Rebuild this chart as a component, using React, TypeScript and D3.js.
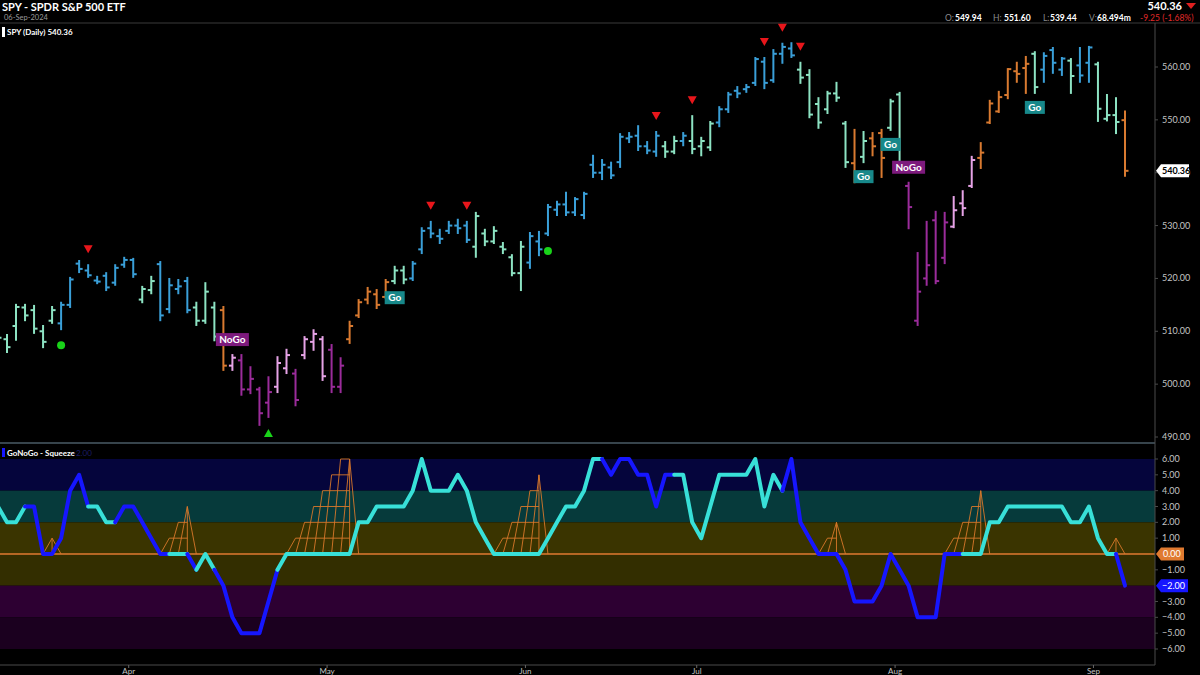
import * as d3 from "d3";

// ---- price bars, index 0 = 8 Mar 2024, last = 6 Sep 2024
const OPENS = [
  509.5, 508.5, 511.0, 514.5, 514.0, 510.0, 512.0, 511.5, 515.0, 522.8,
  521.5, 519.6, 520.5, 519.2, 522.6, 523.5, 516.0, 517.8, 522.7, 514.2,
  518.0, 519.5, 514.5, 512.0, 514.5, 514.0, 503.5, 504.5, 499.0, 499.0,
  496.5, 499.5, 503.0, 502.0, 505.5, 508.0, 508.5, 506.5, 499.5, 508.5,
  513.0, 516.0, 517.0, 516.5, 519.5, 521.5, 520.0, 525.5, 529.5, 528.0,
  529.0, 530.0, 530.0, 526.0, 528.5, 527.0, 526.0, 524.0, 521.0, 523.0,
  527.0, 528.5, 533.0, 534.0, 532.5, 532.0, 541.5, 540.0, 541.0, 542.0,
  546.5, 547.0, 545.0, 544.0, 545.0, 544.0, 546.0, 546.0, 545.0, 544.8,
  549.5, 552.0, 555.5, 555.8, 557.0, 561.0, 557.5, 562.5, 563.5, 559.5,
  558.5, 553.0, 552.0, 555.0, 549.3, 541.8, 543.0, 546.5, 547.5, 548.5,
  554.8, 537.5, 512.0, 520.0, 531.0, 523.9, 529.8, 534.2, 537.5, 542.8,
  549.5, 551.6, 554.7, 559.2, 559.8, 562.5, 559.5, 563.2, 559.5, 561.2,
  560.3, 560.8, 560.5, 550.2, 550.9, 549.94,
];
const HIGHS = [
  510.2, 509.3, 515.0, 515.0, 514.8, 511.0, 514.6, 515.4, 520.1, 523.3,
  522.5, 520.3, 521.0, 522.5, 523.9, 523.7, 518.4, 520.3, 523.1, 519.9,
  519.7, 520.1, 515.4, 519.1, 515.4, 514.6, 505.5, 505.5, 503.2, 499.3,
  501.3, 505.1, 506.5, 502.7, 508.9, 510.2, 508.9, 507.4, 504.9, 511.8,
  515.9, 518.2, 517.8, 519.7, 522.2, 522.2, 523.1, 529.5, 530.7, 529.2,
  530.7, 531.1, 530.7, 532.4, 529.2, 529.7, 526.7, 524.4, 526.9, 528.6,
  528.8, 533.9, 534.5, 536.2, 535.2, 536.2, 543.2, 542.4, 541.9, 547.3,
  547.5, 548.8, 545.8, 547.7, 545.8, 546.8, 547.5, 550.7, 546.6, 549.6,
  552.4, 555.1, 556.2, 556.6, 561.7, 561.7, 563.2, 564.4, 564.5, 560.8,
  559.4, 554.1, 555.3, 557.0, 549.6, 548.1, 547.7, 547.5, 548.1, 553.8,
  555.1, 538.1, 524.8, 530.7, 532.6, 532.4, 535.4, 536.5, 543.0, 545.6,
  553.6, 555.3, 559.6, 560.8, 561.9, 562.8, 562.6, 563.6, 561.7, 561.5,
  563.6, 563.8, 560.8, 554.7, 554.1, 551.6,
];
const LOWS = [
  508.4, 506.1, 508.4, 512.1, 509.7, 507.0, 511.6, 510.4, 514.6, 521.2,
  520.3, 519.1, 517.8, 518.8, 522.2, 520.3, 515.5, 517.2, 512.1, 513.6,
  517.2, 513.6, 511.2, 511.6, 508.3, 502.7, 502.7, 498.0, 498.3, 492.3,
  493.8, 498.5, 502.1, 496.0, 504.9, 506.5, 500.8, 498.5, 498.5, 507.8,
  512.7, 515.3, 514.4, 516.3, 519.1, 519.1, 519.7, 524.8, 527.8, 526.7,
  528.6, 528.6, 526.9, 524.1, 526.3, 526.7, 524.8, 520.6, 517.8, 522.0,
  524.4, 528.2, 532.0, 532.0, 532.0, 531.4, 539.2, 538.8, 539.0, 541.1,
  545.8, 544.3, 543.7, 543.2, 543.0, 543.7, 545.2, 543.7, 543.3, 544.3,
  548.8, 551.5, 554.3, 555.3, 556.6, 556.0, 557.2, 560.8, 561.9, 557.0,
  550.5, 548.5, 551.3, 553.6, 541.1, 538.2, 542.0, 543.3, 539.2, 548.1,
  541.5, 529.5, 511.2, 518.8, 519.1, 522.9, 529.7, 532.0, 537.3, 540.9,
  549.4, 551.5, 554.1, 557.2, 555.1, 555.1, 557.2, 558.9, 558.5, 555.1,
  557.2, 557.2, 549.8, 549.9, 547.5, 539.44,
];
const CLOSES = [
  508.8, 507.0, 514.6, 513.0, 510.5, 508.0, 514.0, 515.0, 519.8, 521.8,
  520.6, 519.4, 518.3, 522.0, 523.5, 520.8, 518.0, 519.5, 513.0, 518.7,
  518.5, 514.0, 512.0, 517.5, 509.0, 503.5, 505.0, 499.0, 501.0, 494.5,
  498.5, 504.0, 505.5, 497.0, 508.5, 509.5, 501.5, 499.5, 503.5, 511.0,
  515.5, 517.5, 515.0, 519.3, 521.5, 519.8, 522.8, 529.0, 528.5, 527.5,
  530.0, 529.5, 527.3, 531.8, 527.0, 529.0, 525.5, 521.0, 526.0, 528.0,
  525.5, 533.5, 534.0, 532.5, 535.0, 536.0, 540.0, 541.5, 539.5, 546.8,
  546.8, 545.0, 544.2, 547.0, 544.0, 546.0, 547.0, 544.5, 546.0, 549.3,
  552.0, 554.8, 555.0, 556.2, 561.5, 557.0, 562.5, 563.8, 562.2, 558.0,
  551.0, 549.5, 555.0, 554.2, 542.0, 539.0, 546.0, 545.0, 542.8, 553.5,
  542.0, 533.5, 517.5, 522.5, 519.5, 530.6, 532.9, 533.3, 542.4, 543.8,
  553.1, 554.3, 559.6, 558.7, 560.6, 556.2, 562.1, 560.8, 561.6, 558.3,
  558.4, 563.7, 552.1, 550.9, 549.6, 540.36,
];
// GoNoGo trend per bar, run-length: B strong Go, M Go, O amber, P NoGo, U strong NoGo
const TREND_RUNS: [string, number][] = [
  ["M", 7], ["B", 9], ["M", 2], ["B", 4], ["M", 3], ["O", 1], ["P", 1], ["U", 4],
  ["P", 2], ["U", 1], ["P", 3], ["U", 2], ["O", 5], ["M", 2], ["B", 7], ["M", 6],
  ["B", 15], ["M", 2], ["B", 1], ["M", 3], ["B", 9], ["M", 6], ["O", 1], ["M", 1],
  ["O", 2], ["M", 2], ["U", 5], ["P", 3], ["O", 6], ["M", 1], ["B", 3], ["M", 1],
  ["B", 2], ["M", 3], ["O", 1],
];
const SELL_MARKS = [10, 48, 52, 73, 77, 85, 87, 89];
const BUY_MARKS = [30];
const DOT_MARKS = [7, 61];
const GO_LABEL_BARS = [44, 96, 99, 115];
const NOGO_LABEL_BARS = [26, 101];

// ---- oscillator
const OSC = [
  3, 2, 2, 3, 3, 0, 0, 1, 4, 5,
  3, 3, 2, 2, 3, 3, 2, 1, 0, 0,
  0, 0, -1, 0, -1, -2, -4, -5, -5, -5,
  -3, -1, 0, 0, 0, 0, 0, 0, 0, 0,
  2, 2, 3, 3, 3, 3, 4, 6, 4, 4,
  4, 5, 4, 2, 1, 0, 0, 0, 0, 0,
  0, 1, 2, 3, 3, 4, 6, 6, 5, 6,
  6, 5, 5, 3, 5, 5, 5, 2, 1, 3,
  5, 5, 5, 5, 6, 3, 5, 4, 6, 2,
  1, 0, 0, 0, -1, -3, -3, -3, -2, 0,
  -1, -2, -4, -4, -4, 0, 0, 0, 0, 0,
  2, 2, 3, 3, 3, 3, 3, 3, 3, 2,
  2, 3, 1, 0, 0, -2,
];
const OSC_RUNS: [string, number][] = [
  ["c", 4], ["b", 7], ["c", 3], ["b", 6], ["c", 2], ["b", 1], ["c", 2], ["b", 7],
  ["c", 36], ["b", 8], ["c", 12], ["b", 20], ["c", 17], ["b", 1],
];
const SQUEEZE_BARS = [6, 19, 20, 21, 33, 34, 35, 36, 37, 38, 39, 56, 57, 58, 59, 60, 92, 93, 106, 107, 108, 109, 124];
const SQUEEZE_LEVELS = [1, 1, 2, 3, 1, 2, 3, 4, 5, 6, 6, 1, 2, 3, 4, 5, 1, 2, 1, 2, 3, 4, 1];
const OSC_BAND_EDGES = [6, 4, 2, 0, -2, -4, -6];

const PRICE_TICKS = [490, 500, 510, 520, 530, 540, 550, 560];
const OSC_TICKS = [6, 5, 4, 3, 2, 1, -1, -3, -4, -5, -6];
const MONTHS = ["Apr", "May", "Jun", "Jul", "Aug", "Sep"];
const MONTH_FIRST_BAR = [15, 37, 59, 78, 100, 122];

const LAST = { o: 549.94, h: 551.6, l: 539.44, c: 540.36, v: "68.494m", chg: "-9.25 (-1.68%)" };

// ---- layout / style
const W = 1200;
const H = 675;
const AXIS_X = 1155;
const HEADER_Y = 23;
const DIVIDER_Y = 443;
const XAXIS_Y = 665;
const FONT = "Lato, 'Open Sans', Arial, sans-serif";
const TREND_COLOR: Record<string, string> = {
  B: "#3a9fd8",
  M: "#8de3c3",
  O: "#d97a30",
  P: "#e6a3e6",
  U: "#9b2c9b",
};
const BAND_COLORS = ["#05053c", "#063a3b", "#3a3400", "#332e00", "#2d0032", "#1b001f"];
const CYAN = "#38e0d8";
const BLUE = "#1616ff";
const SQUEEZE = "#d9782a";
const AXIS_TEXT = "#c4c4c4";

function expand(runs: [string, number][]): string[] {
  const out: string[] = [];
  runs.forEach(([c, k]) => {
    for (let j = 0; j < k; j++) out.push(c);
  });
  return out;
}

function leftTag(x0: number, y: number, w: number) {
  const h = 6.5;
  return `M${x0},${y} L${x0 + 5},${y - h} L${x0 + w},${y - h} L${x0 + w},${y + h} L${x0 + 5},${y + h} Z`;
}

export default function App() {
  const n = OPENS.length;
  const x = d3.scaleLinear().domain([1, n - 1]).range([7, 1125]);
  const step = x(2) - x(1);
  const yP = d3.scaleLinear().domain([490, 560]).range([437, 67]);
  const yO = d3.scaleLinear().domain([-6, 6]).range([649, 459]);
  const trend = expand(TREND_RUNS);
  const oscColor = expand(OSC_RUNS);

  // oscillator runs -> paths
  const line = d3
    .line<number>()
    .x((i) => x(i))
    .y((i) => yO(OSC[i]));
  const oscPaths: { color: string; d: string }[] = [];
  let start = 0;
  for (let i = 1; i <= n; i++) {
    if (i === n || oscColor[i] !== oscColor[start]) {
      const idx = d3.range(Math.max(0, start - 1), i);
      oscPaths.push({ color: oscColor[start] === "c" ? CYAN : BLUE, d: line(idx) || "" });
      start = i;
    }
  }

  // squeeze clusters
  const clusters: { bars: number[]; levels: number[] }[] = [];
  SQUEEZE_BARS.forEach((b, k) => {
    const last = clusters[clusters.length - 1];
    if (last && last.bars[last.bars.length - 1] === b - 1) {
      last.bars.push(b);
      last.levels.push(SQUEEZE_LEVELS[k]);
    } else {
      clusters.push({ bars: [b], levels: [SQUEEZE_LEVELS[k]] });
    }
  });
  const sqLines: [number, number, number, number][] = [];
  clusters.forEach(({ bars, levels }) => {
    const lastBar = bars[bars.length - 1];
    const lastLvl = levels[levels.length - 1];
    const maxLvl = d3.max(levels) || 0;
    bars.forEach((b, k) => {
      sqLines.push([x(b - 1), yO(0), x(b), yO(levels[k])]);
    });
    for (let lv = 1; lv <= maxLvl; lv++) {
      const k = levels.findIndex((v) => v >= lv);
      sqLines.push([x(bars[k]), yO(lv), x(lastBar), yO(lv)]);
    }
    sqLines.push([x(lastBar), yO(0), x(lastBar), yO(lastLvl)]);
    sqLines.push([x(lastBar), yO(lastLvl), x(lastBar + 1), yO(0)]);
  });

  const fmt = d3.format(".2f");
  const lastY = yP(LAST.c);

  return (
    <div style={{ position: "fixed", left: 0, top: 0, width: W, height: H, background: "#000" }}>
      <svg width={W} height={H} style={{ display: "block", fontFamily: FONT }}>
        <rect width={W} height={H} fill="#000" />
        <defs>
          <clipPath id="plot">
            <rect x={0} y={HEADER_Y} width={AXIS_X} height={XAXIS_Y - HEADER_Y} />
          </clipPath>
        </defs>

        {/* header */}
        <text x={2} y={11} fill="#fff" fontSize={11} fontWeight={700}>SPY - SPDR S&amp;P 500 ETF</text>
        <text x={4} y={19.5} fill="#9a9a9a" fontSize={7.5}>06-Sep-2024</text>
        <text x={1182} y={10} fill="#fff" fontSize={11} fontWeight={700} textAnchor="end">{fmt(LAST.c)}</text>
        <path d="M1186,3 L1196,3 L1191,9 Z" fill="#e02020" />
        <g fontSize={8.5} fontWeight={700}>
          <text x={945} y={20.5} fill="#8a8a8a" fontWeight={400}>O:</text>
          <text x={955} y={20.5} fill="#fff">{fmt(LAST.o)}</text>
          <text x={993} y={20.5} fill="#8a8a8a" fontWeight={400}>H:</text>
          <text x={1004} y={20.5} fill="#fff">{fmt(LAST.h)}</text>
          <text x={1043} y={20.5} fill="#8a8a8a" fontWeight={400}>L:</text>
          <text x={1050} y={20.5} fill="#fff">{fmt(LAST.l)}</text>
          <text x={1089} y={20.5} fill="#8a8a8a" fontWeight={400}>V:</text>
          <text x={1097} y={20.5} fill="#fff">{LAST.v}</text>
          <text x={1140} y={20.5} fill="#e02a2a" fontWeight={400}>{LAST.chg}</text>
        </g>
        <line x1={0} x2={W} y1={HEADER_Y} y2={HEADER_Y} stroke="#3a3a3a" />
        <rect x={2} y={27} width={3} height={10} fill="#fff" />
        <text x={7} y={35} fill="#fff" fontSize={8} fontWeight={700}>SPY (Daily) {fmt(LAST.c)}</text>

        {/* oscillator panel background */}
        {BAND_COLORS.map((c, k) => (
          <rect
            key={c}
            x={0}
            width={AXIS_X}
            y={yO(OSC_BAND_EDGES[k])}
            height={yO(OSC_BAND_EDGES[k + 1]) - yO(OSC_BAND_EDGES[k])}
            fill={c}
          />
        ))}

        <g clipPath="url(#plot)">
          {/* price bars */}
          {OPENS.map((o, i) => {
            const cx = x(i);
            const col = TREND_COLOR[trend[i]];
            return (
              <g key={i} stroke={col} strokeWidth={2}>
                <line x1={cx} x2={cx} y1={yP(HIGHS[i]) - 1} y2={yP(LOWS[i]) + 1} />
                <line x1={cx - 3.5} x2={cx} y1={yP(o)} y2={yP(o)} />
                <line x1={cx} x2={cx + 3.5} y1={yP(CLOSES[i])} y2={yP(CLOSES[i])} />
              </g>
            );
          })}
          {SELL_MARKS.map((i) => {
            const ty = yP(HIGHS[i]) - 16;
            return <path key={i} d={`M${x(i) - 4.5},${ty - 4} L${x(i) + 4.5},${ty - 4} L${x(i)},${ty + 4} Z`} fill="#e8161b" />;
          })}
          {BUY_MARKS.map((i) => {
            const ty = yP(LOWS[i]) + 16;
            return <path key={i} d={`M${x(i) - 4.5},${ty + 4} L${x(i) + 4.5},${ty + 4} L${x(i)},${ty - 4} Z`} fill="#19d319" />;
          })}
          {DOT_MARKS.map((i) => (
            <circle key={i} cx={x(i)} cy={yP(LOWS[i]) + 16} r={4} fill="#19d319" />
          ))}
          {GO_LABEL_BARS.map((i) => {
            const top = yP(LOWS[i]) + 8;
            return (
              <g key={i}>
                <rect x={x(i) - 10} y={top} width={20} height={13} fill="#17888a" />
                <text x={x(i)} y={top + 10} fill="#fff" fontSize={10} fontWeight={700} textAnchor="middle">Go</text>
              </g>
            );
          })}
          {NOGO_LABEL_BARS.map((i) => {
            const bottom = yP(HIGHS[i]) - 9;
            return (
              <g key={i}>
                <rect x={x(i) - 16.5} y={bottom - 13} width={33} height={13} fill="#7d1a7d" />
                <text x={x(i)} y={bottom - 3} fill="#fff" fontSize={10} fontWeight={700} textAnchor="middle">NoGo</text>
              </g>
            );
          })}

          {/* squeeze grid + zero line */}
          <line x1={0} x2={AXIS_X} y1={yO(0)} y2={yO(0)} stroke="#e07a30" strokeWidth={1.5} />
          {sqLines.map(([x1, y1, x2, y2], k) => (
            <line key={k} x1={x1} y1={y1} x2={x2} y2={y2} stroke={SQUEEZE} strokeWidth={0.9} />
          ))}
          {oscPaths.map((p, k) => (
            <path key={k} d={p.d} fill="none" stroke={p.color} strokeWidth={4} strokeLinejoin="round" strokeLinecap="round" />
          ))}
        </g>

        {/* panel frame */}
        <line x1={0} x2={AXIS_X} y1={DIVIDER_Y} y2={DIVIDER_Y} stroke="#6f8797" strokeWidth={1.2} />
        <line x1={AXIS_X} x2={AXIS_X} y1={HEADER_Y} y2={XAXIS_Y} stroke="#4a4a4a" />
        <line x1={0} x2={AXIS_X} y1={XAXIS_Y} y2={XAXIS_Y} stroke="#4a4a4a" />
        <rect x={2} y={448} width={3} height={9} fill={BLUE} />
        <text x={7} y={456} fill="#fff" fontSize={8} fontWeight={700}>GoNoGo - Squeeze</text>
        <text x={73} y={456} fill="#1c1c66" fontSize={8}>-2.00</text>

        {/* right axes */}
        <g fontSize={9} fill={AXIS_TEXT}>
          {PRICE_TICKS.map((v) => (
            <g key={v}>
              <line x1={AXIS_X} x2={AXIS_X + 3} y1={yP(v)} y2={yP(v)} stroke="#4a4a4a" />
              <text x={AXIS_X + 7} y={yP(v) + 3}>{fmt(v)}</text>
            </g>
          ))}
          {OSC_TICKS.map((v) => (
            <g key={v}>
              <line x1={AXIS_X} x2={AXIS_X + 3} y1={yO(v)} y2={yO(v)} stroke="#4a4a4a" />
              <text x={AXIS_X + 7} y={yO(v) + 3}>{fmt(v)}</text>
            </g>
          ))}
        </g>
        <path d={leftTag(AXIS_X + 1, lastY, 33)} fill="#fff" />
        <text x={AXIS_X + 7} y={lastY + 3} fontSize={9} fontWeight={700} fill="#000">{fmt(LAST.c)}</text>
        <path d={leftTag(AXIS_X + 1, yO(0), 28)} fill="#e07a30" />
        <text x={AXIS_X + 8} y={yO(0) + 3} fontSize={9} fill="#fff">{fmt(0)}</text>
        <path d={leftTag(AXIS_X + 1, yO(OSC[n - 1]), 32)} fill={BLUE} />
        <text x={AXIS_X + 7} y={yO(OSC[n - 1]) + 3} fontSize={9} fill="#fff">{fmt(OSC[n - 1])}</text>

        {/* month axis */}
        {MONTHS.map((m, k) => {
          const tx = x(MONTH_FIRST_BAR[k]) - step / 2;
          return (
            <g key={m}>
              <line x1={tx} x2={tx} y1={XAXIS_Y} y2={XAXIS_Y + 3} stroke="#666" />
              <text x={tx} y={674} fill={AXIS_TEXT} fontSize={8} textAnchor="middle">{m}</text>
            </g>
          );
        })}
      </svg>
    </div>
  );
}
